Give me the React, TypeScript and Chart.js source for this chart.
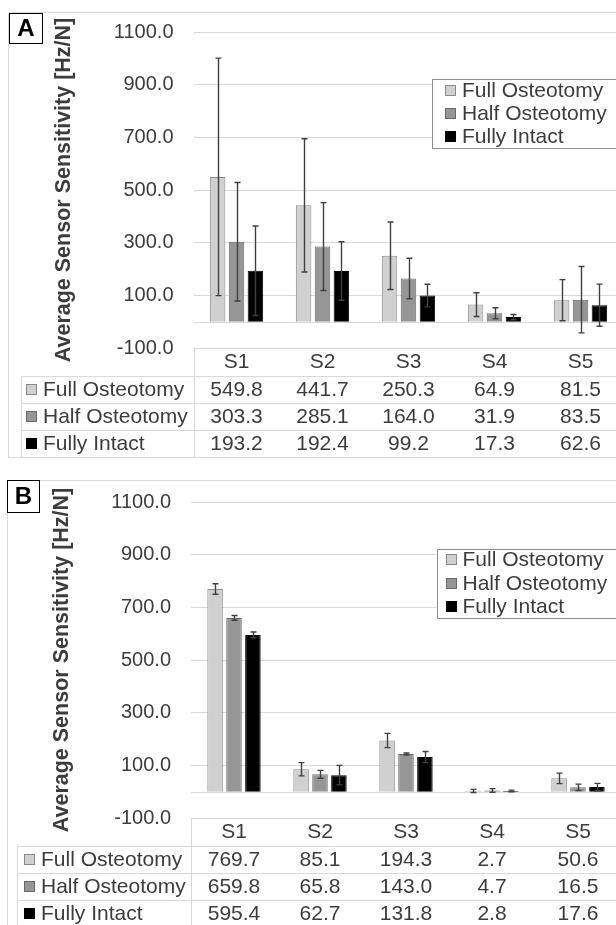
import React, { useEffect, useRef } from 'react';
import { Chart, registerables } from 'chart.js';

Chart.register(...registerables);

// ---------------- DATA ----------------
const categories = ['S1', 'S2', 'S3', 'S4', 'S5'];
const seriesNames = ['Full Osteotomy', 'Half Osteotomy', 'Fully Intact'];
const yAxisTitle = 'Average Sensor Sensitivity [Hz/N]';
const yMin = -100;
const yMax = 1100;
const yStep = 200;

// Panel A
const fullA = [549.8, 441.7, 250.3, 64.9, 81.5];
const halfA = [303.3, 285.1, 164.0, 31.9, 83.5];
const intactA = [193.2, 192.4, 99.2, 17.3, 62.6];
const fullErrA = [451, 253, 128, 45, 78];
const halfErrA = [225, 167, 77, 21, 126];
const intactErrA = [170, 111, 43, 10, 80];

// Panel B
const fullB = [769.7, 85.1, 194.3, 2.7, 50.6];
const halfB = [659.8, 65.8, 143.0, 4.7, 16.5];
const intactB = [595.4, 62.7, 131.8, 2.8, 17.6];
const fullErrB = [20, 25, 27, 6, 20];
const halfErrB = [9, 15, 4, 7, 12];
const intactErrB = [11, 37, 21, 3, 14];

// ---------------- STYLE ----------------
const FONT = "'Liberation Sans', Arial, sans-serif";
const TEXT = '#3c3c3c';
const GRID = '#d9d9d9';
const seriesFill = ['#d0d0d0', '#969696', '#000000'];
const seriesBorder = ['#8a8a8a', '#6a6a6a', '#000000'];
const CANVAS_W = 640;

type Layout = {
  letter: string;
  top: number;
  height: number;
  plotLeft: number;
  padTop: number;
  padRight: number;
  padBottom: number;
  xAxisHeight: number;
  frameLeft: number;
  frameTop: number;
  frameBottom: number;
  box: [number, number, number, number];
  tableLeft: number;
  tableKeyLeft: number;
  tableTextLeft: number;
  legendLeft: number;
  legendTop: number;
  legendHeight: number;
  legendFirst: number;
  legendStep: number;
  legendKeyLeft: number;
  legendTextLeft: number;
  titlePad: number;
};

const layoutA: Layout = {
  letter: 'A', top: 0, height: 470, plotLeft: 193.5, padTop: 25, padRight: 16.5, padBottom: 13, xAxisHeight: 109,
  frameLeft: 8, frameTop: 12, frameBottom: 457, box: [9, 13, 43, 44],
  tableLeft: 21, tableKeyLeft: 26, tableTextLeft: 43,
  legendLeft: 432, legendTop: 78.5, legendHeight: 68.5, legendFirst: 11.5, legendStep: 23,
  legendKeyLeft: 445, legendTextLeft: 462, titlePad: 51,
};

const layoutB: Layout = {
  letter: 'B', top: 470, height: 455, plotLeft: 191, padTop: 23, padRight: 19, padBottom: 0, xAxisHeight: 107,
  frameLeft: 7, frameTop: 10, frameBottom: 480, box: [7, 10, 40, 43],
  tableLeft: 17, tableKeyLeft: 24, tableTextLeft: 41,
  legendLeft: 436.5, legendTop: 78.5, legendHeight: 69, legendFirst: 11, legendStep: 23.5,
  legendKeyLeft: 446, legendTextLeft: 462.5, titlePad: 49.5,
};

function buildConfig(values: number[][], errors: number[][], L: Layout): any {
  const datasets = values.map((vals, i) => ({
    label: seriesNames[i],
    data: vals,
    backgroundColor: seriesFill[i],
    borderColor: seriesBorder[i],
    borderWidth: 1,
    categoryPercentage: 0.66,
    barPercentage: 0.82,
  }));

  const plugin = {
    id: 'panel' + L.letter,
    beforeDraw(chart: any) {
      const ctx = chart.ctx;
      ctx.save();
      ctx.fillStyle = '#ffffff';
      ctx.fillRect(0, 0, chart.width, chart.height);
      ctx.strokeStyle = GRID;
      ctx.lineWidth = 1;
      ctx.strokeRect(L.frameLeft + 0.5, L.frameTop + 0.5, chart.width + 20, L.frameBottom - L.frameTop);
      ctx.restore();
    },
    beforeDatasetsDraw(chart: any) {
      const ctx = chart.ctx;
      const ca = chart.chartArea;
      const y0 = Math.round(chart.scales.y.getPixelForValue(0)) + 0.5;
      ctx.save();
      ctx.strokeStyle = GRID;
      ctx.lineWidth = 1;
      ctx.beginPath();
      ctx.moveTo(ca.left, y0);
      ctx.lineTo(ca.right, y0);
      ctx.stroke();
      ctx.restore();
    },
    afterDatasetsDraw(chart: any) {
      const ctx = chart.ctx;
      const ys = chart.scales.y;
      ctx.save();
      ctx.strokeStyle = '#404040';
      ctx.lineWidth = 1.4;
      chart.data.datasets.forEach((ds: any, di: number) => {
        const meta = chart.getDatasetMeta(di);
        meta.data.forEach((bar: any, i: number) => {
          const v = ds.data[i];
          const e = errors[di][i];
          const yt = ys.getPixelForValue(v + e);
          const yb = ys.getPixelForValue(v - e);
          const x = Math.round(bar.x) + 0.5;
          ctx.beginPath();
          ctx.moveTo(x, yt);
          ctx.lineTo(x, yb);
          ctx.moveTo(x - 3, yt);
          ctx.lineTo(x + 3, yt);
          ctx.moveTo(x - 3, yb);
          ctx.lineTo(x + 3, yb);
          ctx.stroke();
        });
      });
      ctx.restore();
    },
    afterDraw(chart: any) {
      const ctx = chart.ctx;
      const ca = chart.chartArea;
      const xs = chart.scales.x;
      const W = chart.width;
      const headerH = 28;
      const rowH = 27;
      const row0 = ca.bottom + headerH;
      const nRows = chart.data.datasets.length;
      const tableBottom = row0 + nRows * rowH;

      ctx.save();
      // ---- data table grid ----
      ctx.strokeStyle = GRID;
      ctx.lineWidth = 1;
      ctx.beginPath();
      const vx = Math.round(ca.left) + 0.5;
      ctx.moveTo(vx, ca.bottom);
      ctx.lineTo(vx, tableBottom);
      const lx = L.tableLeft + 0.5;
      ctx.moveTo(lx, row0);
      ctx.lineTo(lx, tableBottom);
      for (let r = 0; r <= nRows; r++) {
        const y = Math.round(row0 + r * rowH) + 0.5;
        ctx.moveTo(L.tableLeft, y);
        ctx.lineTo(W, y);
      }
      ctx.stroke();

      // ---- data table rows ----
      ctx.font = `21px ${FONT}`;
      ctx.textBaseline = 'middle';
      chart.data.datasets.forEach((ds: any, di: number) => {
        const cy = row0 + di * rowH + rowH / 2;
        const ks = 11;
        ctx.fillStyle = seriesFill[di];
        ctx.fillRect(L.tableKeyLeft, Math.round(cy - ks / 2), ks, ks);
        ctx.strokeStyle = seriesBorder[di];
        ctx.strokeRect(L.tableKeyLeft + 0.5, Math.round(cy - ks / 2) + 0.5, ks - 1, ks - 1);
        ctx.fillStyle = TEXT;
        ctx.textAlign = 'left';
        ctx.fillText(ds.label, L.tableTextLeft, cy + 1);
        ctx.textAlign = 'center';
        ds.data.forEach((v: number, i: number) => {
          ctx.fillText(v.toFixed(1), xs.getPixelForValue(i), cy + 1);
        });
      });

      // ---- legend ----
      const lgL = L.legendLeft;
      const lgT = L.legendTop;
      ctx.fillStyle = '#ffffff';
      ctx.fillRect(lgL, lgT, W - lgL + 10, L.legendHeight);
      ctx.strokeStyle = '#8c8c8c';
      ctx.lineWidth = 1;
      ctx.strokeRect(Math.round(lgL) + 0.5, Math.round(lgT) + 0.5, W, Math.round(L.legendHeight));
      ctx.textAlign = 'left';
      ctx.textBaseline = 'middle';
      ctx.font = `21px ${FONT}`;
      chart.data.datasets.forEach((ds: any, di: number) => {
        const cy = lgT + L.legendFirst + di * L.legendStep;
        const ks = 11;
        ctx.fillStyle = seriesFill[di];
        ctx.fillRect(L.legendKeyLeft, Math.round(cy - ks / 2), ks, ks);
        ctx.strokeStyle = seriesBorder[di];
        ctx.strokeRect(L.legendKeyLeft + 0.5, Math.round(cy - ks / 2) + 0.5, ks - 1, ks - 1);
        ctx.fillStyle = TEXT;
        ctx.fillText(ds.label, L.legendTextLeft, cy + 1);
      });

      // ---- panel letter ----
      const [bl, bt, br, bb] = L.box;
      ctx.fillStyle = '#ffffff';
      ctx.fillRect(bl, bt, br - bl, bb - bt);
      ctx.strokeStyle = '#000000';
      ctx.lineWidth = 1;
      ctx.strokeRect(bl + 0.5, bt + 0.5, br - bl - 1, bb - bt - 1);
      ctx.fillStyle = '#000000';
      ctx.font = `bold 24px ${FONT}`;
      ctx.textAlign = 'center';
      ctx.textBaseline = 'middle';
      ctx.fillText(L.letter, (bl + br) / 2, (bt + bb) / 2 + 1);
      ctx.restore();
    },
  };

  return {
    type: 'bar',
    data: { labels: categories, datasets },
    options: {
      responsive: false,
      animation: false,
      devicePixelRatio: 1,
      layout: { padding: { left: 0, top: L.padTop, right: L.padRight, bottom: L.padBottom } },
      plugins: { legend: { display: false }, tooltip: { enabled: false }, title: { display: false } },
      scales: {
        x: {
          type: 'category',
          grid: { display: false, drawTicks: false },
          border: { display: false },
          ticks: { color: TEXT, font: { family: FONT, size: 21 }, padding: 1.5, maxRotation: 0, autoSkip: false },
          afterFit(scale: any) { scale.height = L.xAxisHeight; },
        },
        y: {
          type: 'linear',
          min: yMin,
          max: yMax,
          ticks: {
            stepSize: yStep,
            color: TEXT,
            font: { family: FONT, size: 20 },
            padding: 20,
            callback: (v: any) => Number(v).toFixed(1),
          },
          grid: { color: GRID, lineWidth: 1, drawTicks: false },
          border: { display: false },
          title: {
            display: true,
            text: yAxisTitle,
            color: TEXT,
            font: { family: FONT, size: 21.5, weight: 'bold' },
            padding: { top: L.titlePad, bottom: 0 },
          },
          afterFit(scale: any) { scale.width = L.plotLeft; },
        },
      },
    },
    plugins: [plugin],
  };
}

function Panel({ values, errors, layout }: { values: number[][]; errors: number[][]; layout: Layout }) {
  const ref = useRef<HTMLCanvasElement | null>(null);
  useEffect(() => {
    if (!ref.current) return;
    const chart = new Chart(ref.current, buildConfig(values, errors, layout));
    return () => chart.destroy();
  }, []);
  return (
    <canvas
      ref={ref}
      width={CANVAS_W}
      height={layout.height}
      style={{ position: 'absolute', left: 0, top: layout.top, width: CANVAS_W, height: layout.height }}
    />
  );
}

export default function App() {
  return (
    <div style={{ position: 'absolute', left: 0, top: 0, width: 616, height: 925, overflow: 'hidden', background: '#fff' }}>
      <Panel values={[fullA, halfA, intactA]} errors={[fullErrA, halfErrA, intactErrA]} layout={layoutA} />
      <Panel values={[fullB, halfB, intactB]} errors={[fullErrB, halfErrB, intactErrB]} layout={layoutB} />
    </div>
  );
}
